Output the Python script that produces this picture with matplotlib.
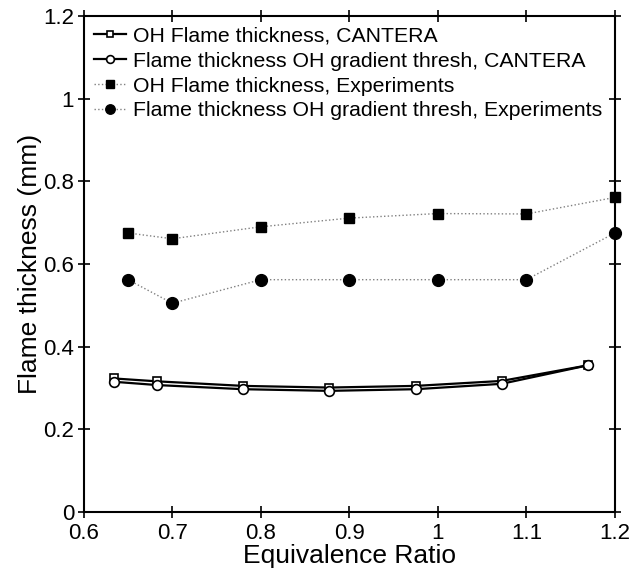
import numpy as np
import matplotlib.pyplot as plt

plt.rcParams['font.family'] = ['Liberation Sans', 'DejaVu Sans']

# CANTERA results
phi_cantera = [0.634, 0.683, 0.78, 0.877, 0.975, 1.072, 1.17]
oh_thick_cantera = [0.323, 0.316, 0.305, 0.301, 0.305, 0.317, 0.355]
grad_thick_cantera = [0.315, 0.307, 0.297, 0.293, 0.297, 0.310, 0.355]

# experiments
phi_exp = [0.65, 0.7, 0.8, 0.9, 1.0, 1.1, 1.2]
oh_thick_exp = [0.675, 0.661, 0.690, 0.711, 0.722, 0.721, 0.761]
grad_thick_exp = [0.562, 0.505, 0.562, 0.562, 0.562, 0.562, 0.675]

fig = plt.figure(figsize=(6.3, 5.72), dpi=100)
ax = fig.add_axes([0.133, 0.105, 0.843, 0.867])

ax.plot(phi_cantera, oh_thick_cantera, '-', color='black', lw=1.6,
        marker='s', ms=6, mfc='white', mec='black', mew=1.2,
        label='OH Flame thickness, CANTERA')
ax.plot(phi_cantera, grad_thick_cantera, '-', color='black', lw=1.6,
        marker='o', ms=7, mfc='white', mec='black', mew=1.2,
        label='Flame thickness OH gradient thresh, CANTERA')
ax.plot(phi_exp, oh_thick_exp, ':', color='gray', lw=1,
        marker='s', ms=7, mfc='black', mec='black',
        label='OH Flame thickness, Experiments', clip_on=False)
ax.plot(phi_exp, grad_thick_exp, ':', color='gray', lw=1,
        marker='o', ms=8.5, mfc='black', mec='black',
        label='Flame thickness OH gradient thresh, Experiments', clip_on=False)

ax.set_xlim(0.6, 1.2)
ax.set_ylim(0, 1.2)
ax.set_xticks(np.arange(0.6, 1.21, 0.1))
ax.set_xticklabels(['0.6', '0.7', '0.8', '0.9', '1', '1.1', '1.2'])
ax.set_yticks(np.arange(0, 1.21, 0.2))
ax.set_yticklabels(['0', '0.2', '0.4', '0.6', '0.8', '1', '1.2'])
ax.tick_params(direction='inout', length=8, width=1.2, labelsize=16,
               top=True, right=True)
ax.tick_params(axis='x', pad=4)
ax.tick_params(axis='y', pad=3)
for s in ax.spines.values():
    s.set_linewidth(1.5)

ax.set_xlabel('Equivalence Ratio', fontsize=19, labelpad=0)
ax.set_ylabel('Flame thickness (mm)', fontsize=19, labelpad=1)

ax.legend(loc='upper left', frameon=False, fontsize=15.3, handlelength=1.5,
          handletextpad=0.3, borderaxespad=0.2, labelspacing=0.28,
          borderpad=0.3, markerscale=0.8)

fig.savefig('out.png', dpi=100)
